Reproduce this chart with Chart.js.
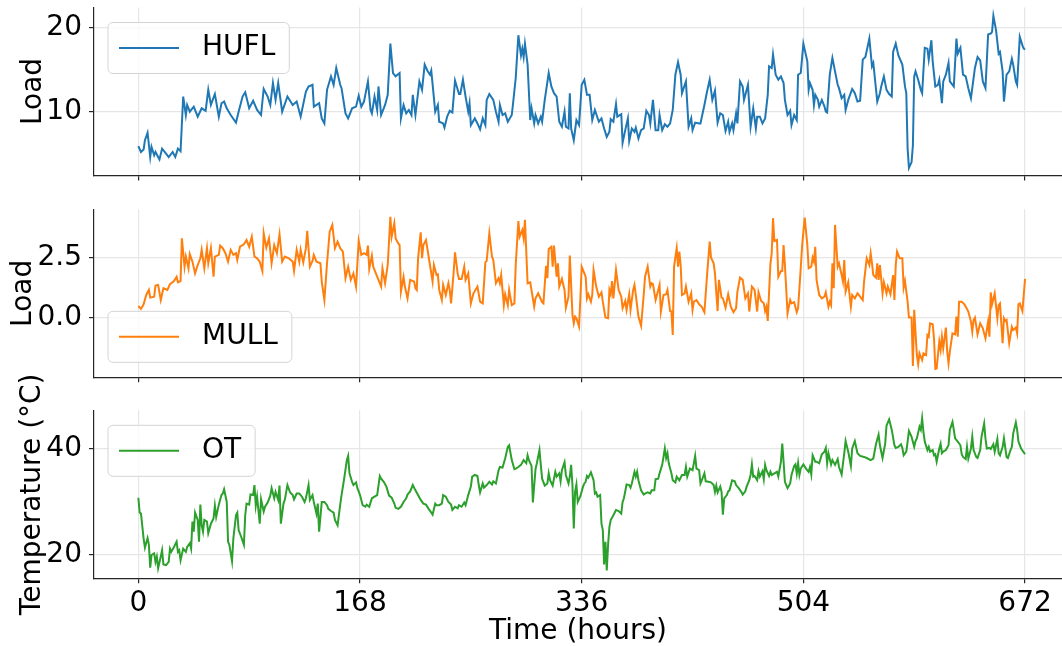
<!DOCTYPE html>
<html>
<head>
<meta charset="utf-8">
<title>HUFL / MULL / OT over four weeks</title>
<script src="https://cdn.jsdelivr.net/npm/chart.js@4.4.0/dist/chart.umd.min.js"></script>
<style>
  html, body { margin: 0; padding: 0; background: #fff; }
  #wrap { position: relative; width: 1062px; height: 646px; overflow: hidden; }
  #wrap canvas { position: absolute; left: 0; top: 0; }
</style>
</head>
<body>
<div id="wrap">
  <canvas id="hufl-chart" width="1062" height="646"></canvas>
  <canvas id="mull-chart" width="1062" height="646"></canvas>
  <canvas id="ot-chart" width="1062" height="646"></canvas>
</div>
<script>
// shared x ticks (hours)
const xTicks = [0, 168, 336, 504, 672];

// HUFL load
const huflHours = [
  0,2,4,5,7,9,10,12,13,16,18,21,23,26,28,
  30,32,34,36,37,39,42,45,48,51,53,55,58,61,63,
  65,67,70,74,76,79,81,84,87,90,93,95,98,100,102,
  104,106,109,113,117,120,123,127,129,132,133,137,139,141,143,
  146,148,150,153,154,157,159,162,165,167,169,171,174,176,177,
  179,181,182,184,187,189,191,193,195,198,199,201,203,205,207,
  208,210,213,215,217,219,221,222,225,227,228,231,232,234,236,
  238,240,243,244,246,248,250,251,252,255,257,259,261,263,264,
  266,269,271,273,274,276,278,280,283,284,286,288,290,291,292,
  293,295,297,298,300,301,303,305,306,308,311,313,315,317,319,
  321,323,324,326,327,328,330,332,334,336,338,340,342,344,346,
  349,351,353,355,357,358,360,362,363,366,367,369,371,372,374,
  376,377,379,381,383,385,387,388,390,392,394,395,397,399,401,
  403,405,407,409,411,412,415,417,419,420,422,425,426,429,431,
  433,435,437,439,441,443,445,447,448,450,451,453,454,456,458,
  459,462,464,466,468,469,471,473,475,477,478,480,481,483,485,
  487,489,490,492,494,495,497,499,500,502,504,507,508,509,511,
  512,513,515,516,518,520,521,522,524,526,528,530,531,533,535,
  536,538,541,543,545,547,549,551,554,556,557,560,562,563,565,
  567,569,571,572,574,576,579,581,582,583,584,586,587,588,589,
  591,593,594,596,598,599,601,602,604,606,607,609,610,612,614,
  615,618,620,621,623,625,627,629,631,634,636,638,640,642,644,
  646,647,648,650,652,653,655,656,658,660,662,663,665,666,668,
  670,671,672
];
const huflLoad = [
  5.9,5.2,5.5,6.6,7.5,4.6,5.8,4.8,5.2,4.3,5.6,5.0,4.6,5.2,4.6,
  5.6,5.3,11.8,9.6,10.8,10.0,10.6,9.4,10.4,10.1,12.6,10.8,12.1,9.4,11.0,
  11.2,10.4,9.6,8.7,10.0,11.8,12.3,10.4,11.3,10.2,9.6,12.7,11.8,10.8,13.4,
  11.4,13.4,10.0,11.8,10.8,11.2,9.4,12.4,13.0,13.2,10.6,11.0,9.2,8.6,12.6,
  14.2,13.2,15.2,13.2,12.8,9.8,9.2,10.4,10.6,11.9,10.6,11.2,13.6,10.2,9.8,
  11.8,10.2,13.0,9.6,10.8,12.0,18.1,14.6,14.2,14.6,9.2,10.8,9.8,10.2,9.6,
  12.0,9.6,13.6,12.6,15.6,14.9,14.4,14.9,10.0,10.8,8.8,8.6,8.1,9.4,10.1,
  9.9,13.7,12.1,12.1,13.8,11.8,10.0,11.0,8.4,9.2,8.6,7.9,9.2,8.4,11.4,
  12.1,11.4,10.0,8.8,10.8,9.6,9.8,8.8,9.6,11.0,14.0,19.1,16.7,17.5,16.5,
  18.1,15.6,9.0,10.4,8.6,9.6,8.6,9.4,8.8,11.4,14.6,13.0,12.2,11.8,8.8,
  8.2,10.0,8.2,8.0,12.2,8.0,6.6,9.0,8.4,13.2,13.8,12.0,12.0,9.0,10.2,
  8.8,9.2,8.0,7.0,7.6,9.1,8.8,10.9,9.4,9.7,6.3,7.8,9.2,6.5,8.0,
  7.6,8.1,6.8,7.8,8.0,10.1,9.6,8.6,11.4,7.8,7.8,9.6,7.8,8.5,8.2,
  8.6,10.2,14.4,15.9,14.4,12.2,13.6,8.2,9.2,7.8,8.7,8.6,8.6,10.8,12.4,
  13.8,11.4,12.5,8.7,9.8,9.6,7.7,8.8,7.6,8.6,7.8,9.8,8.6,13.6,13.0,
  11.4,13.2,8.2,10.4,8.0,9.4,9.4,8.6,9.2,12.0,15.4,15.2,16.8,14.4,13.8,
  14.2,13.4,11.4,9.6,10.1,8.4,9.6,9.0,14.4,14.6,18.1,16.0,12.6,13.4,12.6,
  10.8,12.0,11.4,10.6,11.4,10.6,10.0,9.9,14.4,16.4,14.8,13.2,12.8,11.6,12.0,
  10.2,11.4,12.7,12.2,11.2,11.3,16.2,16.5,18.7,15.4,15.8,11.2,12.2,13.0,14.2,
  12.6,12.1,11.8,17.1,18.1,16.7,15.6,13.0,12.2,5.6,3.3,4.0,6.0,14.2,14.8,
  13.8,12.6,12.2,17.6,17.5,16.2,18.5,16.0,13.0,13.2,13.8,11.0,13.6,14.4,15.8,
  13.6,13.0,18.7,16.9,17.6,14.4,14.2,12.8,11.6,15.2,16.5,16.1,13.6,12.8,19.2,
  19.3,19.5,21.4,19.7,16.9,17.1,14.8,11.2,14.4,14.8,16.3,15.6,13.6,13.2,18.9,
  17.9,17.5,17.4
];

// MULL load
const mullHours = [
  0,2,4,6,8,9,12,13,15,17,19,22,24,27,29,
  30,32,33,35,36,38,39,41,43,45,47,48,50,52,53,
  55,57,58,61,62,64,66,68,70,72,74,75,77,80,82,
  84,86,88,90,92,94,95,97,99,101,103,105,107,109,111,
  114,117,118,120,122,123,125,127,128,130,132,133,135,138,139,
  141,143,145,147,149,151,153,155,157,159,161,163,165,167,169,
  171,173,174,175,177,178,180,182,184,185,187,189,191,192,194,
  195,197,198,199,201,202,204,206,209,210,211,212,214,215,216,
  218,219,221,223,224,226,227,228,230,231,233,235,236,237,239,
  240,242,243,245,247,248,250,252,254,257,259,261,263,264,266,
  268,269,271,273,274,275,277,278,280,281,283,285,286,288,289,
  291,292,293,295,297,300,301,303,306,307,309,310,311,313,314,
  315,317,318,319,321,323,324,326,327,329,330,331,332,334,335,
  336,339,340,341,343,344,345,347,349,351,352,354,356,357,358,
  359,360,362,364,366,367,369,370,372,373,375,376,377,379,381,
  383,384,386,388,389,390,392,394,395,396,398,400,401,403,404,
  405,406,408,409,410,411,412,414,415,417,419,420,421,423,425,
  427,429,431,433,434,436,437,439,440,442,443,445,447,449,451,
  453,454,456,458,460,462,463,465,467,469,470,472,474,475,476,
  477,479,480,481,482,484,485,487,488,489,490,492,494,495,497,
  499,500,502,503,504,505,507,508,510,511,512,513,514,516,518,
  520,521,523,524,525,526,527,528,530,531,533,534,535,536,538,
  539,540,541,543,545,546,549,550,552,554,555,556,557,559,560,
  561,562,564,565,567,568,570,572,573,574,575,577,579,580,581,
  583,584,586,587,588,590,591,592,594,595,597,598,599,600,602,
  603,604,605,607,608,609,610,612,613,614,615,617,619,620,621,
  622,624,626,628,629,631,632,633,634,636,638,640,642,644,645,
  646,647,649,651,652,653,655,656,657,658,660,662,663,665,666,
  667,668,670,672
];
const mullLoad = [
  0.47,0.35,0.54,0.93,1.14,0.82,0.86,1.32,1.35,0.72,1.21,1.14,1.38,1.51,1.69,
  1.46,1.51,3.29,2.11,2.53,2.04,2.63,2.32,1.83,2.18,2.46,2.81,2.04,2.88,2.25,
  2.88,1.69,2.53,2.60,2.99,2.88,2.67,2.32,2.81,2.60,2.67,2.39,2.94,3.04,3.22,
  2.94,3.36,2.53,2.46,2.32,1.93,3.50,2.90,3.29,2.25,3.01,2.67,3.46,2.32,2.53,
  2.46,2.32,1.93,2.81,2.32,2.81,2.29,2.88,3.60,2.11,2.35,2.60,2.32,2.25,1.49,
  0.72,2.25,3.57,3.85,2.88,3.15,2.88,2.74,1.63,2.11,1.56,1.83,1.28,3.18,2.60,
  2.67,2.60,2.99,2.01,2.57,2.11,1.83,1.56,1.28,2.04,1.42,2.18,4.19,3.36,3.92,
  3.29,3.08,3.01,1.07,1.69,1.28,0.79,1.56,1.49,1.21,1.14,2.46,3.54,2.46,3.01,
  3.22,2.88,2.18,1.49,2.18,1.76,1.79,1.14,0.72,1.35,0.93,1.42,1.14,0.58,1.90,
  2.71,1.83,1.60,1.60,2.11,1.56,1.83,0.58,1.00,1.28,0.65,0.58,2.29,2.35,3.50,
  2.53,2.39,1.42,1.63,1.42,1.76,0.51,0.96,0.51,1.14,0.51,0.58,2.18,4.01,3.36,
  3.64,3.29,4.06,1.42,1.46,0.44,0.79,1.00,0.63,0.58,2.15,1.63,2.85,2.94,2.11,
  2.99,1.69,2.25,1.28,1.60,1.14,0.40,0.86,2.57,0.10,-0.25,0.03,-0.04,-0.39,0.79,
  2.11,1.69,0.79,0.96,0.65,0.93,1.97,1.28,0.86,1.04,0.65,-0.01,-0.04,1.14,0.96,
  1.51,0.79,1.97,1.14,0.86,0.38,0.68,0.31,0.96,0.31,1.14,1.35,0.93,0.03,-0.35,
  0.93,1.69,2.11,1.28,1.42,1.38,0.72,1.14,1.35,0.24,0.93,0.96,1.14,0.26,0.24,
  -0.74,2.11,2.88,2.11,2.74,2.18,0.93,1.00,1.28,0.65,1.00,0.31,0.65,0.72,0.54,
  0.44,0.21,1.76,3.15,2.49,2.25,1.83,0.26,1.56,0.82,0.79,0.40,0.96,0.44,0.21,
  0.38,1.07,1.65,1.56,0.79,1.00,0.24,1.28,1.14,0.24,1.04,0.68,0.58,0.26,0.44,
  -0.15,2.21,2.67,4.13,3.18,3.22,1.69,1.93,1.93,3.01,2.18,0.17,0.72,0.58,0.63,
  0.21,0.38,2.04,2.94,3.57,4.15,3.01,2.04,2.11,2.49,2.32,2.94,1.56,0.93,0.79,
  0.86,1.04,0.44,0.65,0.51,2.25,1.21,3.85,2.11,2.25,1.76,1.49,2.39,1.07,1.46,
  0.93,0.44,0.93,0.79,1.00,0.93,0.72,1.49,2.46,2.18,2.67,2.25,1.76,1.65,2.25,
  1.56,2.18,1.00,1.46,1.00,1.28,0.96,1.76,0.72,2.18,2.74,2.46,2.46,1.24,1.51,
  0.65,-0.01,-0.01,-2.03,0.31,-1.57,-1.96,-1.50,-1.78,-1.50,-1.57,-0.74,-0.81,-0.25,-0.29,
  -0.88,-2.15,-2.13,-1.01,-1.36,-0.81,-1.29,-0.43,-1.43,-1.92,-1.43,-0.67,-0.71,0.03,-0.81,
  0.65,0.65,0.54,0.35,0.24,-0.18,-0.60,-0.11,-0.01,-0.71,-0.25,-0.46,-0.88,-0.18,-0.81,
  1.04,0.54,1.00,-0.04,0.51,0.58,-1.08,-0.04,-0.15,-0.11,-1.08,-0.39,-0.53,-0.43,-0.67,
  0.54,0.58,0.26,1.60
];

// OT oil temperature
const otHours = [
  0,1,2,4,5,7,8,9,10,12,13,14,15,17,18,
  19,21,23,24,25,27,29,30,31,32,34,36,37,39,40,
  41,42,43,45,46,47,48,49,50,52,53,55,57,58,59,
  61,63,64,65,67,68,69,71,72,74,75,76,78,80,81,
  82,84,85,87,88,89,90,92,93,95,96,98,100,101,103,
  104,106,107,108,110,111,113,115,117,118,120,122,124,126,127,
  129,130,132,133,135,136,137,139,141,143,144,146,148,149,151,
  153,154,156,158,159,160,162,163,165,166,167,168,170,172,173,
  175,177,179,181,183,184,186,188,190,192,194,195,197,199,201,
  203,204,206,208,210,212,214,216,218,220,222,223,225,226,228,
  230,231,233,235,237,238,240,242,243,245,247,248,250,252,253,
  255,257,258,259,261,262,264,266,268,269,271,273,274,276,278,
  280,281,283,285,286,288,290,292,294,295,296,298,299,301,302,
  304,305,306,308,310,311,312,314,315,316,317,319,320,321,323,
  324,326,327,328,329,330,331,332,333,335,337,338,339,340,341,
  343,345,346,347,348,350,351,352,353,354,355,356,357,358,360,
  362,364,366,367,368,370,372,373,374,376,377,378,379,381,383,
  384,386,388,389,391,392,394,395,397,398,399,400,401,402,404,
  405,407,408,410,412,414,415,416,418,420,421,422,423,425,426,
  427,429,430,432,434,436,437,438,439,441,442,443,444,446,447,
  448,450,452,453,455,457,458,460,461,463,464,465,466,467,469,
  470,471,473,474,475,476,478,479,480,482,484,485,487,488,489,
  490,492,494,495,497,498,499,500,501,502,504,506,508,509,510,
  511,513,514,516,518,520,521,522,523,525,526,528,530,531,533,
  535,536,538,540,541,543,545,547,550,552,555,557,559,561,562,
  564,566,567,569,571,573,574,576,578,579,580,582,583,584,586,
  588,589,590,592,593,594,595,596,598,599,600,602,603,604,605,
  607,608,609,610,612,614,615,617,618,619,621,623,624,625,627,
  628,629,631,632,633,635,636,638,639,641,642,643,645,646,648,
  649,651,652,653,655,656,658,659,661,662,663,665,666,667,669,
  672
];
const otTemp = [
  30.7,27.9,27.7,23.0,21.3,23.1,21.8,17.5,19.9,20.2,18.6,19.6,17.4,19.6,20.8,
  18.1,18.0,18.6,21.1,20.5,21.4,22.4,20.5,20.8,18.9,21.1,20.5,21.4,22.1,21.1,
  26.2,24.3,27.9,26.5,22.4,29.4,25.5,24.3,26.5,26.2,24.0,25.8,26.8,29.2,27.1,
  29.4,31.2,31.5,32.3,29.9,22.4,21.8,18.7,23.0,27.4,27.9,24.6,23.3,21.8,27.4,
  29.6,29.4,31.3,31.2,33.1,29.2,30.9,25.8,30.4,28.1,29.0,29.8,31.1,32.5,30.6,
  31.8,30.3,33.0,25.8,29.6,30.3,33.1,31.7,31.2,30.4,31.5,31.5,30.9,29.9,30.6,
  33.1,30.3,31.2,29.9,27.7,29.6,24.3,29.9,29.9,29.3,28.6,28.2,27.9,26.5,25.5,
  29.4,31.2,34.3,37.8,38.6,35.3,33.7,33.1,33.6,32.5,31.9,31.2,29.3,29.0,29.4,
  29.0,30.6,30.9,31.2,34.8,34.3,33.7,32.8,31.1,30.7,29.6,28.8,28.6,29.0,29.9,
  30.6,31.3,31.9,33.1,32.1,31.2,30.3,29.6,29.4,28.6,27.9,27.5,29.6,29.3,29.3,
  29.6,31.2,30.9,29.9,29.4,28.4,29.0,28.7,29.3,29.0,29.8,29.3,31.2,32.8,34.7,
  35.0,34.8,33.1,31.7,33.4,32.6,33.1,33.7,33.2,33.8,33.4,35.9,36.5,36.4,38.1,
  40.3,40.6,37.8,36.1,36.2,36.5,36.9,37.8,37.2,38.7,37.8,36.7,29.8,36.1,37.2,
  39.7,36.9,34.3,33.0,33.4,35.3,34.0,33.0,34.3,35.6,34.7,35.3,33.8,35.9,37.4,
  35.0,33.4,34.7,36.9,33.1,24.9,31.8,33.2,29.9,31.0,32.8,33.4,33.7,34.8,34.5,
  35.5,34.0,31.5,31.7,30.9,31.2,25.8,24.6,18.1,22.4,17.0,21.8,25.2,26.5,27.4,
  28.4,28.2,27.7,29.9,30.6,33.2,33.1,32.6,33.4,35.6,34.7,35.6,34.0,32.1,31.3,
  31.5,31.7,31.5,32.1,32.1,34.2,34.3,35.3,36.9,38.4,40.0,38.2,39.1,37.2,35.3,
  34.0,33.6,34.7,34.0,35.0,35.0,36.5,34.7,36.2,35.9,37.2,38.6,36.2,35.9,33.4,
  34.0,35.3,33.8,33.7,33.6,33.1,31.8,33.0,31.7,32.8,31.8,27.5,30.6,31.2,31.9,
  32.1,34.0,33.8,33.1,32.5,31.8,31.3,31.9,32.8,34.0,35.0,37.0,34.7,34.8,34.0,
  35.7,34.7,35.7,34.2,36.9,35.9,34.8,35.6,35.0,35.3,35.6,34.7,37.5,40.9,37.5,
  33.7,32.5,33.4,35.0,36.7,37.0,35.3,37.2,35.0,36.2,37.0,36.2,35.6,36.5,35.1,
  38.7,37.5,37.5,37.2,38.9,39.4,40.1,37.2,39.1,37.0,37.8,36.9,38.0,36.5,35.1,
  39.1,41.4,39.4,36.7,40.0,41.4,39.1,38.6,38.4,38.2,37.8,38.1,40.8,42.6,40.6,
  38.2,40.9,44.3,45.5,43.5,40.6,40.1,40.3,40.8,40.1,38.7,39.4,41.3,43.3,42.2,
  40.3,41.4,41.9,44.1,43.5,45.7,43.1,41.3,39.7,40.3,39.4,39.7,38.7,38.9,37.5,
  40.0,40.9,39.1,39.4,39.7,40.6,43.5,45.0,43.5,41.9,41.3,40.6,38.9,38.4,38.0,
  40.3,38.1,40.0,42.2,39.7,38.4,38.2,39.7,42.2,44.7,41.9,40.0,40.1,39.9,40.8,
  39.4,41.8,39.1,38.7,40.3,41.9,38.4,38.2,39.7,40.3,42.8,44.9,43.5,41.3,40.0,
  38.9
];

// y tick values per panel
const huflTicks = [10, 20];
const mullTicks = [0, 2.5];
const otTicks = [20, 40];

const gridColor = '#e6e6e6';
const spineColor = '#262626';

Chart.defaults.font.family = 'DejaVu Sans';
Chart.defaults.font.size = 28;
Chart.defaults.color = '#000';

// matplotlib-style framed legend inside the plot area
const boxLegend = {
  id: 'boxLegend',
  afterDatasetsDraw(chart, args, opts) {
    const { ctx, chartArea } = chart;
    const ds = chart.data.datasets[0];
    ctx.save();
    ctx.font = '28px "DejaVu Sans"';
    const w = ctx.measureText(ds.label).width + 108;
    const h = 51;
    const left = chartArea.left + 14;
    const top = opts.corner === 'lower' ? chartArea.bottom - 15 - h : chartArea.top + 15;
    ctx.beginPath();
    if (ctx.roundRect) ctx.roundRect(left, top, w, h, 5);
    else ctx.rect(left, top, w, h);
    ctx.fillStyle = 'rgba(255,255,255,0.8)';
    ctx.fill();
    ctx.lineWidth = 1;
    ctx.strokeStyle = '#d4d4d4';
    ctx.stroke();
    const mid = top + h / 2;
    ctx.beginPath();
    ctx.moveTo(left + 11, mid);
    ctx.lineTo(left + 71, mid);
    ctx.strokeStyle = ds.borderColor;
    ctx.lineWidth = 2;
    ctx.stroke();
    ctx.fillStyle = '#000';
    ctx.textBaseline = 'middle';
    ctx.textAlign = 'left';
    ctx.fillText(ds.label, left + 94, mid);
    ctx.restore();
  }
};

function makePanel(id, p) {
  const points = p.hours.map((h, i) => ({ x: h, y: p.values[i] }));
  return new Chart(document.getElementById(id), {
    type: 'line',
    data: {
      datasets: [{
        label: p.label,
        data: points,
        borderColor: p.color,
        borderWidth: 2,
        pointRadius: 0,
        tension: 0,
        fill: false
      }]
    },
    options: {
      responsive: false,
      animation: false,
      devicePixelRatio: 1,
      layout: { padding: { top: p.padTop, bottom: p.padBottom, left: 0, right: 0 } },
      plugins: {
        legend: { display: false },
        tooltip: { enabled: false },
        boxLegend: { corner: p.corner }
      },
      scales: {
        x: {
          type: 'linear',
          min: -33.6,
          max: 700,
          afterBuildTicks: axis => { axis.ticks = xTicks.map(v => ({ value: v })); },
          afterFit: axis => {
            axis.height = p.xHeight;
            axis.paddingLeft = 0;
            axis.paddingRight = 0;
          },
          ticks: { display: p.showX, padding: 4, maxRotation: 0, autoSkip: false, callback: v => String(v) },
          grid: { color: gridColor, lineWidth: 1.2, tickLength: 5, tickColor: spineColor, tickWidth: 1.2 },
          border: { color: spineColor, width: 1.2 },
          title: {
            display: p.showX, text: 'Time (hours)',
            font: { size: 28, lineHeight: 1.05 },
            padding: { top: 0, bottom: 0 }
          }
        },
        y: {
          min: p.yMin,
          max: p.yMax,
          afterBuildTicks: axis => { axis.ticks = p.yTicks.map(v => ({ value: v })); },
          afterFit: axis => {
            axis.width = 94;
            axis.paddingTop = 0;
            axis.paddingBottom = 0;
          },
          ticks: { padding: 7, callback: p.fmt },
          grid: { color: gridColor, lineWidth: 1.2, tickLength: 5, tickColor: spineColor, tickWidth: 1.2 },
          border: { color: spineColor, width: 1.2 },
          title: { display: true, text: p.yTitle, padding: { top: p.titlePad, bottom: 0 } }
        }
      }
    },
    plugins: [boxLegend]
  });
}

makePanel('hufl-chart', {
  hours: huflHours, values: huflLoad, label: 'HUFL', color: '#1f77b4',
  yTitle: 'Load', yMin: 2.4, yMax: 22.4, yTicks: huflTicks, fmt: v => String(v),
  padTop: 7.5, padBottom: 460.5, xHeight: 10, showX: false, corner: 'upper', titlePad: 17
});

makePanel('mull-chart', {
  hours: mullHours, values: mullLoad, label: 'MULL', color: '#ff7f0e',
  yTitle: 'Load', yMin: -2.5, yMax: 4.5, yTicks: mullTicks, fmt: v => v.toFixed(1),
  padTop: 209.3, padBottom: 258.7, xHeight: 10, showX: false, corner: 'lower', titlePad: 7
});

makePanel('ot-chart', {
  hours: otHours, values: otTemp, label: 'OT', color: '#2ca02c',
  yTitle: 'Temperature (°C)', yMin: 15.5, yMax: 47.2, yTicks: otTicks, fmt: v => String(v),
  padTop: 410.3, padBottom: 0, xHeight: 67.7, showX: true, corner: 'upper', titlePad: 16
});
</script>
</body>
</html>
